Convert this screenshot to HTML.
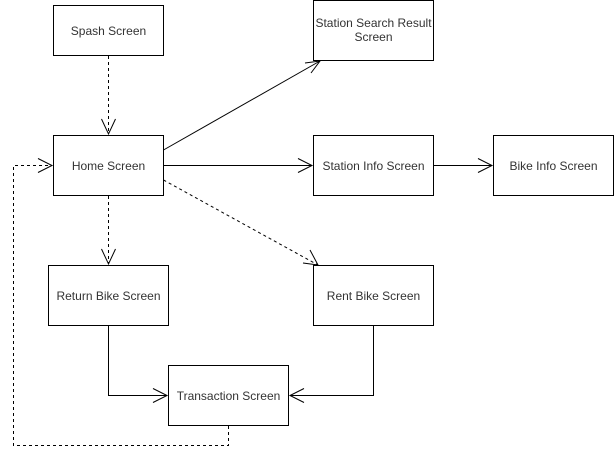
<!DOCTYPE html>
<html><head><style>body{margin:0;background:#fff}svg{display:block}text{font-family:"Liberation Sans",Arial,sans-serif;font-size:12px;fill:#333;text-anchor:middle}</style></head><body>
<svg width="614" height="460" viewBox="0 0 614 460" xmlns="http://www.w3.org/2000/svg">
<g fill="#fff" stroke="#000" stroke-width="1">
<rect x="53.5" y="5.5" width="110" height="50"/>
<rect x="313.5" y="0.5" width="120" height="60"/>
<rect x="53.5" y="135.5" width="110" height="60"/>
<rect x="313.5" y="135.5" width="120" height="60"/>
<rect x="493.5" y="135.5" width="120" height="60"/>
<rect x="48.5" y="265.5" width="120" height="60"/>
<rect x="313.5" y="265.5" width="120" height="60"/>
<rect x="168.5" y="365.5" width="120" height="60"/>
</g>
<g fill="none" stroke="#000" stroke-width="1">
<path d="M108.5 56V134" stroke-dasharray="3 3"/>
<path d="M101.5 119L108.5 134L115.5 119"/>
<path d="M163.5 150L320 61"/>
<path d="M305 63L320 61L311 73"/>
<path d="M163.5 165.5H312"/>
<path d="M298 158.5L312 165.5L298 172.5"/>
<path d="M433.5 165.5H492"/>
<path d="M478 158.5L492 165.5L478 172.5"/>
<path d="M163.5 180L318 265" stroke-dasharray="3 3"/>
<path d="M310 250L318 265L303 263"/>
<path d="M108.5 196V264" stroke-dasharray="3 3"/>
<path d="M101.5 249L108.5 264L115.5 249"/>
<path d="M108.5 326V395.5H167"/>
<path d="M153 388.5L167 395.5L153 402.5"/>
<path d="M373.5 326V395.5H290"/>
<path d="M304 388.5L290 395.5L304 402.5"/>
<path d="M228.5 426V445.5H13.5V165.5H52" stroke-dasharray="3 3"/>
<path d="M38 158.5L52 165.5L38 172.5"/>
</g>
<text x="108.5" y="35">Spash Screen</text>
<text x="373.5" y="27">Station Search Result</text>
<text x="373.5" y="41">Screen</text>
<text x="108.5" y="170">Home Screen</text>
<text x="373.5" y="170">Station Info Screen</text>
<text x="553.5" y="170">Bike Info Screen</text>
<text x="108.5" y="300">Return Bike Screen</text>
<text x="373.5" y="300">Rent Bike Screen</text>
<text x="228.5" y="400">Transaction Screen</text>
</svg>
</body></html>
